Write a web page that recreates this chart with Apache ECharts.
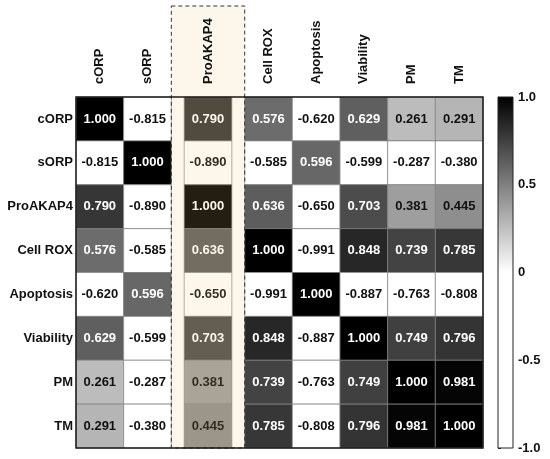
<!DOCTYPE html>
<html>
<head>
<meta charset="utf-8">
<script src="https://cdn.jsdelivr.net/npm/echarts@6/dist/echarts.min.js"></script>
<style>
  html, body { margin: 0; padding: 0; background: #fff; }
  #chart-container { width: 550px; height: 459px; }
</style>
</head>
<body>
<div id="chart-container"></div>
<script>
// variables (rows == columns)
const names = ['cORP', 'sORP', 'ProAKAP4', 'Cell ROX', 'Apoptosis', 'Viability', 'PM', 'TM'];

// correlation rows
const cORP      = [1.000, -0.815, 0.790, 0.576, -0.620, 0.629, 0.261, 0.291];
const sORP      = [-0.815, 1.000, -0.890, -0.585, 0.596, -0.599, -0.287, -0.380];
const proAKAP4  = [0.790, -0.890, 1.000, 0.636, -0.650, 0.703, 0.381, 0.445];
const cellROX   = [0.576, -0.585, 0.636, 1.000, -0.991, 0.848, 0.739, 0.785];
const apoptosis = [-0.620, 0.596, -0.650, -0.991, 1.000, -0.887, -0.763, -0.808];
const viability = [0.629, -0.599, 0.703, 0.848, -0.887, 1.000, 0.749, 0.796];
const pm        = [0.261, -0.287, 0.381, 0.739, -0.763, 0.749, 1.000, 0.981];
const tm        = [0.291, -0.380, 0.445, 0.785, -0.808, 0.796, 0.981, 1.000];
const corr = [cORP, sORP, proAKAP4, cellROX, apoptosis, viability, pm, tm];

// colour bar ticks
const scaleTicks = [-1, -0.5, 0, 0.5, 1];
// colours at -1, 0, 1
const scaleColors = ['#ffffff', '#ffffff', '#000000'];

const highlightCol = 2;   // ProAKAP4 column gets the cream box
const PAD = 0.27;         // extra room each side of highlighted column
const W = names.length + 2 * PAD;

function colStart(c) {
    if (c < highlightCol) return c;
    if (c === highlightCol) return c + PAD;
    return c + 2 * PAD;
}

const cells = [];
corr.forEach((row, r) => {
    row.forEach((v, c) => cells.push([c, r, v]));
});
const FONT = 'bold 13px "Liberation Sans", Arial, sans-serif';

const myChart = echarts.init(document.getElementById('chart-container'));

function renderCell(params, api) {
    const c = api.value(0), r = api.value(1), v = api.value(2);
    const x0 = colStart(c);
    const p0 = api.coord([x0, r]);
    const p1 = api.coord([x0 + 1, r]);
    const h = api.size([0, 1])[1];
    const w = p1[0] - p0[0];
    return {
        type: 'group',
        children: [{
            type: 'rect',
            shape: { x: p0[0], y: p0[1] - h / 2, width: w, height: h },
            style: { fill: api.visual('color'), stroke: '#808080', lineWidth: 0.7 }
        }, {
            type: 'text',
            style: {
                text: v.toFixed(3), x: p0[0] + w / 2, y: p0[1],
                fill: v > 0.5 ? '#ffffff' : '#111111', font: FONT,
                align: 'center', verticalAlign: 'middle'
            }
        }]
    };
}

function renderColLabel(params, api) {
    const c = api.value(0);
    const p = api.coord([colStart(c) + 0.5, 0]);
    const h = api.size([0, 1])[1];
    return {
        type: 'text',
        x: p[0], y: p[1] - h / 2 - 13,
        rotation: Math.PI / 2,
        style: {
            text: names[c], fill: '#111111', font: FONT,
            align: 'left', verticalAlign: 'middle'
        }
    };
}

function renderHighlight(params, api) {
    const h = api.size([0, 1])[1];
    const a = api.coord([colStart(highlightCol) - PAD, 0]);
    const b = api.coord([colStart(highlightCol) + 1 + PAD, names.length - 1]);
    const top = a[1] - h / 2 - 91;
    const bottom = b[1] + h / 2;
    return {
        type: 'rect',
        shape: { x: a[0], y: top, width: b[0] - a[0], height: bottom - top },
        style: { fill: 'rgba(243,200,120,0.15)', stroke: '#333333', lineWidth: 1, lineDash: [4, 3] }
    };
}

function renderFrame(params, api) {
    const h = api.size([0, 1])[1];
    const a = api.coord([0, 0]);
    const b = api.coord([W, names.length - 1]);
    return {
        type: 'rect',
        shape: { x: a[0], y: a[1] - h / 2, width: b[0] - a[0], height: b[1] - a[1] + h },
        style: { fill: null, stroke: '#1a1a1a', lineWidth: 1.5 }
    };
}

function renderScale(params, api) {
    const a = api.coord([0, 1]);
    const b = api.coord([1, -1]);
    return {
        type: 'rect',
        shape: { x: a[0], y: a[1], width: b[0] - a[0], height: b[1] - a[1] },
        style: {
            fill: {
                type: 'linear', x: 0, y: 0, x2: 0, y2: 1,
                colorStops: scaleColors.slice().reverse().map((col, i) => ({
                    offset: i / (scaleColors.length - 1), color: col
                }))
            },
            stroke: '#222222', lineWidth: 1
        }
    };
}

const option = {
    animation: false,
    grid: [
        { left: 76, top: 97, width: 407, height: 351, outerBoundsMode: 'none' },
        { left: 498, top: 97, width: 15, height: 351, outerBoundsMode: 'none' }
    ],
    xAxis: [
        { gridIndex: 0, type: 'value', min: 0, max: W, show: false },
        { gridIndex: 1, type: 'value', min: 0, max: 1, show: false }
    ],
    yAxis: [
        {
            gridIndex: 0, type: 'category', data: names, inverse: true,
            axisLine: { show: false }, axisTick: { show: false }, splitLine: { show: false },
            axisLabel: {
                margin: 3, color: '#111111', fontWeight: 'bold', fontSize: 13,
                fontFamily: '"Liberation Sans", Arial, sans-serif'
            }
        },
        {
            gridIndex: 1, type: 'value', min: -1, max: 1, interval: 0.5, position: 'right',
            axisLine: { show: true, lineStyle: { color: '#222222' } },
            axisTick: { show: true, length: 3, lineStyle: { color: '#222222' } },
            splitLine: { show: false },
            axisLabel: {
                margin: 5, color: '#111111', fontWeight: 'bold', fontSize: 13,
                fontFamily: '"Liberation Sans", Arial, sans-serif',
                formatter: v => (v === 0 ? '0' : v.toFixed(1))
            }
        }
    ],
    visualMap: {
        show: false, type: 'continuous', min: -1, max: 1,
        seriesIndex: 0, dimension: 2,
        inRange: { color: scaleColors }
    },
    series: [
        {
            type: 'custom', name: 'cells', xAxisIndex: 0, yAxisIndex: 0, z: 2,
            renderItem: renderCell, data: cells
        },
        {
            type: 'custom', name: 'highlight', xAxisIndex: 0, yAxisIndex: 0, z: 3,
            renderItem: renderHighlight, data: [[highlightCol, 0]]
        },
        {
            type: 'custom', name: 'frame', xAxisIndex: 0, yAxisIndex: 0, z: 4,
            renderItem: renderFrame, data: [[0, 0]]
        },
        {
            type: 'custom', name: 'colLabels', xAxisIndex: 0, yAxisIndex: 0, z: 5,
            renderItem: renderColLabel, data: names.map((n, i) => [i, 0])
        },
        {
            type: 'custom', name: 'scale', xAxisIndex: 1, yAxisIndex: 1, z: 2,
            renderItem: renderScale, data: [[0, scaleTicks[0]]]
        }
    ]
};

option && myChart.setOption(option);
</script>
</body>
</html>
